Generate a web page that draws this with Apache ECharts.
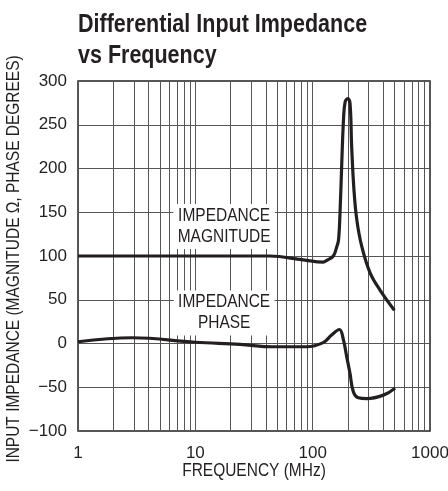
<!DOCTYPE html>
<html>
<head>
<meta charset="utf-8">
<script src="https://cdn.jsdelivr.net/npm/echarts@6/dist/echarts.min.js"></script>
<style>
html,body{margin:0;padding:0;background:#fff;}
#c{width:448px;height:491px;}
</style>
</head>
<body>
<div id="c"></div>
<script>
// ---- data ----
var magFreq = [1, 5, 20, 43, 83, 123, 132, 150, 160, 166, 171, 177, 183, 189, 199, 208, 215, 225, 238, 262, 308, 375, 497];
var magVal  = [100, 100, 100, 100, 95.5, 93, 95, 100, 110, 118, 149, 206, 255, 276, 280, 275, 225, 175, 141, 111, 81, 61, 38];
var phFreq  = [1, 2.9, 10, 24, 46, 89, 123, 145, 169, 183, 195, 208, 222, 245, 289, 401, 504];
var phVal   = [2, 6.6, 1.4, -1, -3.7, -3.7, 1, 9.7, 16, 4, -15, -34, -55, -62, -63, -59, -51];
var xMin = 1, xMax = 1000;
var yMin = -100, yMax = 300, yStep = 50;
var minorFreqs = [2,3,4,5,6,7,8,9,20,30,40,50,60,70,80,90,200,300,400,500,600,700,800,900];
var titleText = 'Differential Input Impedance\nvs Frequency';
var xName = 'FREQUENCY (MHz)';
var yName = 'INPUT IMPEDANCE (MAGNITUDE \u03A9, PHASE DEGREES)';
var magLabel = {text: 'IMPEDANCE\nMAGNITUDE', at: [17.6, 133.7]};
var phLabel = {text: 'IMPEDANCE\nPHASE', at: [17.6, 34.9]};

var FONT = '"Liberation Sans", Arial, sans-serif';
var INK = '#231f20';
var GRIDC = '#555555';
var SQ = 0.86; // horizontal condensing to mimic a condensed face

function pairs(xs, ys){ return xs.map(function(x,i){ return [x, ys[i]]; }); }

var chart = echarts.init(document.getElementById('c'), null, {renderer:'canvas'});
chart.setOption({
  animation: false,
  backgroundColor: '#fff',
  grid: {left: 78, right: 18, top: 81, bottom: 60, show: true, borderColor: INK, borderWidth: 1.5,
         backgroundColor: 'transparent', outerBoundsMode: 'none', containLabel: false},
  xAxis: {
    type: 'log', logBase: 10, min: xMin, max: xMax,
    axisLine: {show: false}, axisTick: {show: false},
    axisLabel: {fontFamily: FONT, fontSize: 17, color: INK, margin: 14,
      formatter: function(v){ return String(Math.round(v)); }},
    splitLine: {show: true, lineStyle: {color: GRIDC, width: 1}}
  },
  yAxis: {
    type: 'value', min: yMin, max: yMax, interval: yStep,
    axisLine: {show: false}, axisTick: {show: false},
    axisLabel: {fontFamily: FONT, fontSize: 17, color: INK, margin: 11,
      formatter: function(v){ return String(v).replace('-', '\u2212'); }},
    splitLine: {show: true, lineStyle: {color: GRIDC, width: 1}}
  },
  series: [
    {
      type: 'line', data: [], silent: true, z: 1,
      markLine: {
        silent: true, symbol: ['none','none'], label: {show: false},
        lineStyle: {color: GRIDC, width: 1, type: 'solid'},
        data: minorFreqs.map(function(f){ return {xAxis: f}; })
      }
    },
    {
      name: 'magnitude', type: 'line', data: pairs(magFreq, magVal),
      showSymbol: false, smooth: 0.4, z: 5,
      lineStyle: {color: INK, width: 3.2}, itemStyle: {color: INK}
    },
    {
      name: 'phase', type: 'line', data: pairs(phFreq, phVal),
      showSymbol: false, smooth: 0.4, z: 5,
      lineStyle: {color: INK, width: 3.2}, itemStyle: {color: INK}
    }
  ]
});

var gridRect = chart.getModel().getComponent('grid', 0).coordinateSystem.getRect();
var pMag = chart.convertToPixel({gridIndex: 0}, magLabel.at);
var pPh = chart.convertToPixel({gridIndex: 0}, phLabel.at);

function txt(x, y, text, size, opts){
  opts = opts || {};
  return {
    type: 'text', x: x, y: y, rotation: opts.rotation || 0, scaleX: SQ, z: 100,
    style: {
      text: text, fill: INK, fontFamily: FONT, fontSize: size,
      fontWeight: opts.bold ? 'bold' : 'normal',
      lineHeight: opts.lineHeight || size * 1.2,
      align: opts.align || 'center', verticalAlign: opts.verticalAlign || 'middle',
      backgroundColor: opts.bg, padding: opts.padding
    }
  };
}

chart.setOption({
  graphic: [
    txt(78, 10, titleText, 25, {bold: true, align: 'left', verticalAlign: 'top', lineHeight: 31}),
    txt(gridRect.x + gridRect.width / 2, gridRect.y + gridRect.height + 40, xName, 18),
    txt(14, gridRect.y + gridRect.height / 2 + 3, yName, 18, {rotation: Math.PI / 2}),
    txt(pMag[0], pMag[1], magLabel.text, 18, {lineHeight: 21, bg: '#fff', padding: [2, 5, 1, 5]}),
    txt(pPh[0], pPh[1], phLabel.text, 18, {lineHeight: 21, bg: '#fff', padding: [2, 5, 1, 5]})
  ]
});
</script>
</body>
</html>
